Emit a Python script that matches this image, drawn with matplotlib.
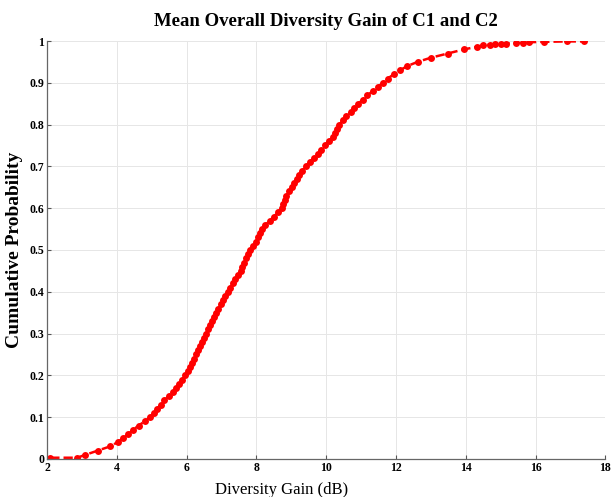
#CDF of mean overall diversity gain (C1 and C2)
#values

import numpy as np
import matplotlib
matplotlib.use('Agg')
import matplotlib.pyplot as plt

#diversity gain values (dB), sorted
gain_db = [2.09, 2.86,
           3.10, 3.45, 3.80, 4.02, 4.18, 4.33, 4.47, 4.62, 4.80, 4.95,
           5.06, 5.15, 5.26, 5.36, 5.48, 5.60, 5.70, 5.78, 5.87, 5.96,
           6.04, 6.10, 6.16, 6.22, 6.27, 6.32, 6.38, 6.43, 6.50, 6.56,
           6.61, 6.66, 6.72, 6.78, 6.85, 6.91, 6.98, 7.04, 7.11, 7.18,
           7.24, 7.32, 7.40, 7.48, 7.55, 7.60, 7.65, 7.70, 7.76, 7.82,
           7.90, 7.98, 8.05, 8.11, 8.17, 8.26, 8.38, 8.50, 8.62, 8.72,
           8.77, 8.81, 8.86, 8.94, 9.01, 9.08, 9.15, 9.22, 9.31, 9.42,
           9.54, 9.65, 9.76, 9.86, 9.97, 10.08, 10.19, 10.26, 10.32, 10.38,
           10.47, 10.58, 10.70, 10.81, 10.92, 11.05, 11.18, 11.33, 11.48, 11.62,
           11.76, 11.93, 12.12, 12.32, 12.62, 13.00, 13.48, 13.95,
           14.32, 14.50, 14.70, 14.85, 15.00, 15.15,
           15.45, 15.65, 15.80, 16.25, 16.90, 17.40]

#cumulative probability of each point
cum_prob = [0.003, 0.003,
            0.01, 0.02, 0.03, 0.04, 0.05, 0.06, 0.07, 0.08, 0.09, 0.10,
            0.11, 0.12, 0.13, 0.14, 0.15, 0.16, 0.17, 0.18, 0.19, 0.20,
            0.21, 0.22, 0.23, 0.24, 0.25, 0.26, 0.27, 0.28, 0.29, 0.30,
            0.31, 0.32, 0.33, 0.34, 0.35, 0.36, 0.37, 0.38, 0.39, 0.40,
            0.41, 0.42, 0.43, 0.44, 0.45, 0.46, 0.47, 0.48, 0.49, 0.50,
            0.51, 0.52, 0.53, 0.54, 0.55, 0.56, 0.57, 0.58, 0.59, 0.60,
            0.61, 0.62, 0.63, 0.64, 0.65, 0.66, 0.67, 0.68, 0.69, 0.70,
            0.71, 0.72, 0.73, 0.74, 0.75, 0.76, 0.77, 0.78, 0.79, 0.80,
            0.81, 0.82, 0.83, 0.84, 0.85, 0.86, 0.87, 0.88, 0.89, 0.90,
            0.91, 0.92, 0.93, 0.94, 0.95, 0.96, 0.97, 0.98,
            0.986, 0.990, 0.991, 0.992, 0.993, 0.994,
            0.995, 0.996, 0.997, 0.998, 0.999, 0.999]

x_ticks = [2, 4, 6, 8, 10, 12, 14, 16, 18]
y_ticks = [0, 0.1, 0.2, 0.3, 0.4, 0.5, 0.6, 0.7, 0.8, 0.9, 1]
y_tick_labels = ['0', '0.1', '0.2', '0.3', '0.4', '0.5', '0.6', '0.7', '0.8', '0.9', '1']

plt.rcParams['font.family'] = ['Liberation Serif', 'DejaVu Serif']

fig = plt.figure(figsize=(6.12, 4.97), dpi=100)
ax = fig.add_axes([0.077, 0.0765, 0.912, 0.841])

ax.plot(gain_db, cum_prob, color='#ff0000', linestyle='--', linewidth=1.8,
        marker='o', markersize=5, markeredgewidth=0)

ax.set_xlim(2, 18)
ax.set_ylim(0, 1)
ax.set_xticks(x_ticks)
ax.set_yticks(y_ticks)
ax.set_yticklabels(y_tick_labels)
for lab in ax.get_xticklabels() + ax.get_yticklabels():
    lab.set_fontweight('bold')
    lab.set_fontsize(8.5)

ax.tick_params(direction='in', length=3, width=0.8, color='#555555', pad=2)
ax.grid(True, color='#e6e6e6', linewidth=0.7)
ax.set_axisbelow(True)
for side in ['top', 'right']:
    ax.spines[side].set_visible(False)
for side in ['left', 'bottom']:
    ax.spines[side].set_color('#666666')
    ax.spines[side].set_linewidth(0.9)

ax.set_title('Mean Overall Diversity Gain of C1 and C2', fontsize=13.5,
             fontweight='bold', pad=11)
ax.set_xlabel('Diversity Gain (dB)', fontsize=12)
ax.xaxis.set_label_coords(0.42, -0.055)
ax.set_ylabel('Cumulative Probability', fontsize=14, fontweight='bold')
ax.yaxis.set_label_coords(-0.044, 0.5)

fig.savefig('out.png', dpi=100)
